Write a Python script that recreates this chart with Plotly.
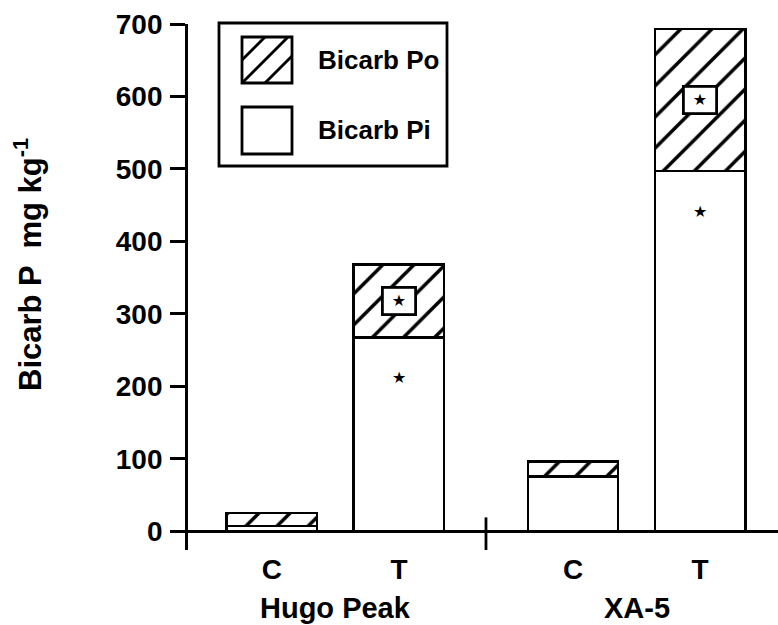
import plotly.graph_objects as go

# Bicarbonate-extractable P (mg kg-1) by site and treatment
groups = ["Hugo Peak", "XA-5"]
treatments = ["C", "T"]
bicarb_pi = [7, 267, 76, 497]      # inorganic P, per bar
bicarb_po = [18, 101, 20, 196]     # organic P, stacked on top
series_names = ["Bicarb Po", "Bicarb Pi"]
sig_pi = [False, True, False, True]
sig_po = [False, True, False, True]
y_ticks = [0, 100, 200, 300, 400, 500, 600, 700]

W, H = 778, 625
ML, MR, MT, MB = 188, 0, 24, 75
GROUP_STEP = 2.37
BAR_W = 0.71
FONT = "Liberation Sans, Arial, Helvetica, sans-serif"
LW = 2.8
TXT = 28


def px(x, y):
    """Pixel position on the page -> paper coordinates."""
    return ((x - ML) / (W - ML - MR), (H - MB - y) / (H - MT - MB))


pos = []
cat_labels = []
for gi, g in enumerate(groups):
    for ti, t in enumerate(treatments):
        pos.append(gi * GROUP_STEP + ti)
        cat_labels.append(t)

fig = go.Figure()
fig.add_trace(go.Bar(
    x=pos, y=bicarb_pi, width=BAR_W, name=series_names[1],
    marker=dict(color="white", line=dict(color="black", width=LW)),
    showlegend=False,
))
fig.add_trace(go.Bar(
    x=pos, y=bicarb_po, width=BAR_W, name=series_names[0],
    marker=dict(color="white", line=dict(color="black", width=LW),
                pattern=dict(shape="/", fgcolor="black", bgcolor="white",
                             fgopacity=1, fillmode="replace",
                             size=22, solidity=0.16)),
    showlegend=False,
))

# significance markers
star_font = dict(family="DejaVu Sans", size=16, color="black")
for x, pi, po, spi, spo in zip(pos, bicarb_pi, bicarb_po, sig_pi, sig_po):
    if spo:
        fig.add_annotation(x=x, y=pi + po / 2, text="★", showarrow=False,
                           font=star_font, bgcolor="white", bordercolor="black",
                           borderwidth=LW, width=30, height=24, borderpad=0)
    if spi:
        fig.add_annotation(x=x, y=pi, yshift=-40, text="★", showarrow=False,
                           font=star_font)

# group labels under the category ticks
for gi, g in enumerate(groups):
    xs = [pos[i] for i in range(len(pos)) if i // len(treatments) == gi]
    fig.add_annotation(x=sum(xs) / len(xs), xref="x", y=0, yref="paper",
                       yanchor="middle", yshift=-58, text=g, showarrow=False,
                       font=dict(family=FONT, size=TXT + 1, color="black", weight="bold"))

# divider tick between the two sites
mid = (pos[len(treatments) - 1] + pos[len(treatments)]) / 2
fig.add_shape(type="line", x0=mid, x1=mid, y0=-27, y1=19,
              line=dict(color="black", width=LW))


def paper_rect(x0, y0, x1, y1):
    (a, b), (c, d) = px(x0, y1), px(x1, y0)
    fig.add_shape(type="rect", xref="paper", yref="paper", x0=a, y0=b, x1=c, y1=d,
                  line=dict(color="black", width=LW), fillcolor="white")


def paper_line(x0, y0, x1, y1):
    (a, b), (c, d) = px(x0, y0), px(x1, y1)
    fig.add_shape(type="line", xref="paper", yref="paper", x0=a, y0=b, x1=c, y1=d,
                  line=dict(color="black", width=LW))


# legend box
paper_rect(219, 23, 447, 166)
# hatched swatch
sx0, sy0, sx1, sy1 = 242, 37, 292, 83
paper_rect(sx0, sy0, sx1, sy1)
sw, sh = sx1 - sx0, sy1 - sy0
for c in (-23, 0, 23):
    # diagonal v = u - c inside the swatch (u right, v up from bottom-left)
    u0 = max(0, c)
    v0 = u0 - c
    u1 = min(sw, sh + c)
    v1 = u1 - c
    paper_line(sx0 + u0, sy1 - v0, sx0 + u1, sy1 - v1)
# plain swatch
paper_rect(242, 107, 292, 154)

for name, yy in zip(series_names, (60, 130)):
    lx, ly = px(316, yy)
    fig.add_annotation(xref="paper", yref="paper", x=lx, y=ly,
                       xanchor="left", yanchor="middle",
                       text=name, showarrow=False,
                       font=dict(family=FONT, size=TXT - 2, color="black", weight="bold"))

# y-axis title
tx, ty = px(28, 265)
fig.add_annotation(xref="paper", yref="paper", x=tx, y=ty, textangle=-90,
                   xanchor="center", yanchor="middle", showarrow=False,
                   text="Bicarb P  mg kg<sup>-1</sup>",
                   font=dict(family=FONT, size=TXT + 3, color="black", weight="bold"))

fig.update_layout(
    barmode="stack",
    width=W, height=H,
    margin=dict(l=ML, r=MR, t=MT, b=MB),
    plot_bgcolor="white", paper_bgcolor="white",
    font=dict(family=FONT, color="black"),
    xaxis=dict(range=[-0.661, 3.984], tickvals=pos, ticktext=cat_labels,
               showline=False, showgrid=False, zeroline=False, ticks="",
               tickfont=dict(size=TXT, weight="bold"), ticklabelstandoff=0),
    yaxis=dict(range=[-26, 700], tickvals=y_ticks, showgrid=False,
               showline=True, linecolor="black", linewidth=LW,
               ticks="outside", ticklen=15, tickwidth=LW, tickcolor="black",
               zeroline=True, zerolinecolor="black", zerolinewidth=LW,
               tickfont=dict(size=TXT, weight="bold"), ticklabelstandoff=2),
)

fig.write_html("out.html")
